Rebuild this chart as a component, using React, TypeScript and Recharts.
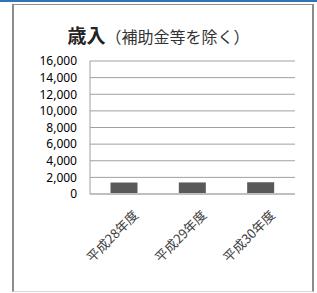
import React from 'react';
import { BarChart, Bar, XAxis, YAxis, CartesianGrid } from 'recharts';

// 年度別の歳入（補助金等を除く）
const years = ['平成28年度', '平成29年度', '平成30年度'];
const revenue = [1380, 1390, 1420];
const yTicks = [0, 2000, 4000, 6000, 8000, 10000, 12000, 14000, 16000];

const data = years.map((year, i) => ({ year, revenue: revenue[i] }));

const jpFont = '"Noto Sans CJK JP", "Noto Sans", sans-serif';

const YearTick = (props: any) => {
  const { x, y, payload } = props;
  return (
    <g transform={`translate(${x + 15},${y + 14})`}>
      <text
        textAnchor="end"
        transform="rotate(-45)"
        fontSize={13}
        fontFamily={jpFont}
        fill="#404040"
      >
        {payload.value}
      </text>
    </g>
  );
};

const App: React.FC = () => {
  return (
    <div
      style={{
        position: 'absolute',
        left: 0,
        top: 0,
        width: 317,
        height: 293,
        background: '#fff',
        overflow: 'hidden',
      }}
    >
      <div style={{ position: 'absolute', left: 0, top: 0, width: 317, height: 2, background: '#2e75b6' }} />
      <div
        style={{
          position: 'absolute',
          left: 12,
          top: 4,
          width: 302,
          height: 288,
          borderLeft: '2px solid #8c8c8c',
          borderTop: '1px solid #8c8c8c',
          borderRight: '2px solid #8c8c8c',
          borderBottom: '1px solid #d9d9d9',
          boxSizing: 'border-box',
        }}
      />
      <div
        style={{
          position: 'absolute',
          left: 0,
          top: 22,
          width: 317,
          textAlign: 'center',
          fontFamily: jpFont,
          color: '#222',
          whiteSpace: 'nowrap',
          lineHeight: '26px',
        }}
      >
        <span style={{ fontSize: 19, fontWeight: 'bold' }}>歳入</span>
        <span style={{ fontSize: 16, color: '#333' }}>（補助金等を除く）</span>
      </div>
      <div style={{ position: 'absolute', left: 0, top: 0 }}>
        <BarChart
          width={317}
          height={293}
          data={data}
          margin={{ top: 61, right: 22, bottom: 39, left: 12 }}
          barCategoryGap="30%"
        >
          <CartesianGrid vertical={false} stroke="#a0a0a0" />
          <XAxis
            dataKey="year"
            tick={<YearTick />}
            tickLine={false}
            axisLine={{ stroke: '#bfbfbf', strokeWidth: 2 }}
            interval={0}
            height={60}
          />
          <YAxis
            domain={[0, 16000]}
            ticks={yTicks}
            interval={0}
            width={78}
            tickLine={false}
            tickMargin={7}
            axisLine={{ stroke: '#a0a0a0' }}
            tickFormatter={(v: number) => v.toLocaleString('en-US')}
            tick={{ fontSize: 12, fill: '#000', fontFamily: '"Noto Sans", sans-serif' }}
          />
          <Bar dataKey="revenue" fill="#595959" isAnimationActive={false} />
        </BarChart>
      </div>
    </div>
  );
};

export default App;
